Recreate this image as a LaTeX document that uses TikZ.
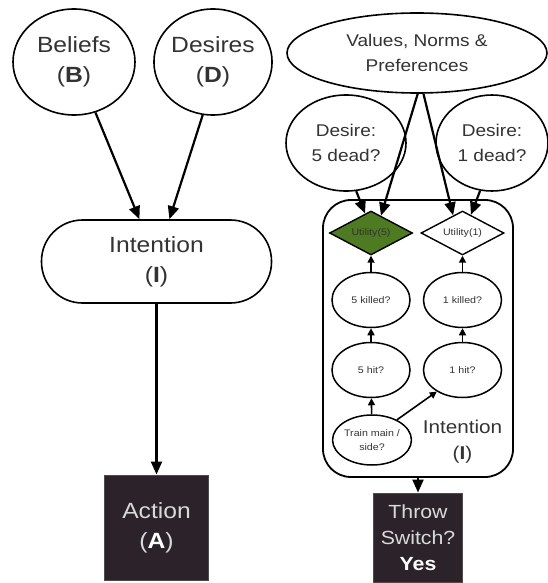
\documentclass[tikz,border=0pt]{standalone}
\usepackage{fontspec}
\setmainfont{Liberation Sans}[FakeStretch=1.12]
\usetikzlibrary{shapes.geometric,arrows.meta}
\definecolor{ink}{HTML}{333333}
\definecolor{boxfill}{HTML}{2B2329}
\definecolor{leaf}{HTML}{4E7A22}
\begin{document}
\begin{tikzpicture}[x=1pt,y=-1pt,
  every node/.style={text=ink, align=center, inner sep=0pt},
  bigtxt/.style={font=\fontsize{22}{30}\selectfont},
  midtxt/.style={font=\fontsize{17}{25}\selectfont},
  smalltxt/.style={font=\fontsize{9.5}{14}\selectfont},
  oval/.style={ellipse, draw=black, line width=1.6pt, fill=white},
  inoval/.style={ellipse, draw=black, line width=1.5pt, fill=white, smalltxt, minimum width=78pt, minimum height=55pt},
  util/.style={diamond, aspect=2, draw=black, line width=1.4pt, smalltxt, minimum width=83pt, minimum height=44pt},
  darkbox/.style={rectangle, draw=black!70, line width=1pt, fill=boxfill, text=black!15},
  arr/.style={line width=2.2pt, -{Triangle[length=13pt,width=11pt]}},
  sarr/.style={line width=1.6pt, -{Triangle[length=7pt,width=7pt]}}
]
\useasboundingbox (0,0) rectangle (548,583);

% ---- left model: beliefs and desires lead to an intention, then an action
\node[oval, bigtxt, minimum width=122pt, minimum height=106pt] (bel) at (74,62) {Beliefs\\(\textbf{B})};
\node[oval, bigtxt, minimum width=112pt, minimum height=106pt] (des) at (213,62) {Desires\\(\textbf{D})};
\node[rectangle, rounded corners=41pt, draw=black, line width=1.6pt, bigtxt,
      minimum width=230pt, minimum height=83pt] (int) at (156.5,261.5) {Intention\\(\textbf{I})};
\node[darkbox, bigtxt, minimum width=104pt, minimum height=105pt] (act) at (156.5,527.5)
      {Action\\(\textcolor{white}{\textbf{A}})};

\draw[arr] (bel.-67) -- (int.112);
\draw[arr] (des.-101) -- (int.73);
\draw[arr] (int.south) -- (act.north);

% ---- right model: the trolley case
\node[oval, midtxt, minimum width=260pt, minimum height=80pt] (val) at (417,53) {Values, Norms \&\\Preferences};
\node[oval, midtxt, minimum width=120pt, minimum height=96pt] (d5) at (346,143) {Desire:\\5 dead?};
\node[oval, midtxt, minimum width=112pt, minimum height=96pt] (d1) at (492,143) {Desire:\\1 dead?};

% intention container with its inner network
\node[rectangle, rounded corners=28pt, draw=black, line width=1.8pt,
      minimum width=190pt, minimum height=277pt] (box) at (418,338.5) {};
\node[font=\fontsize{18.5}{26}\selectfont] (blab) at (462.5,442) {Intention\\(\textbf{I})};

\node[util, fill=leaf] (u5) at (371,233) {Utility(5)};
\node[util, fill=white] (u1) at (462.5,233) {Utility(1)};
\node[inoval] (k5) at (371,300) {5 killed?};
\node[inoval] (k1) at (462.5,300) {1 killed?};
\node[inoval] (h5) at (371,370) {5 hit?};
\node[inoval] (h1) at (462.5,370) {1 hit?};
\node[inoval, minimum height=50pt] (tr) at (372,440) {Train main /\\side?};

\node[darkbox, font=\fontsize{19}{26}\selectfont, minimum width=89pt, minimum height=89pt] (thr) at (418,537.5)
      {Throw\\Switch?\\\textcolor{white}{\textbf{Yes}}};

\draw[arr] (val.-89) -- (u5.60);
\draw[arr] (val.-81) -- (u1.118);
\draw[arr] (d5.-78) -- (u5.107);
\draw[arr] (d1.-104) -- (u1.65);

\draw[sarr] (k5) -- (u5);
\draw[sarr] (h5) -- (k5);
\draw[sarr] (tr) -- (h5);
\draw[sarr] (tr.39) -- (h1.-140);
\draw[sarr] (h1) -- (k1);
\draw[sarr] (k1) -- (u1);

\draw[arr] (box.south) -- (thr.north);
\end{tikzpicture}
\end{document}
